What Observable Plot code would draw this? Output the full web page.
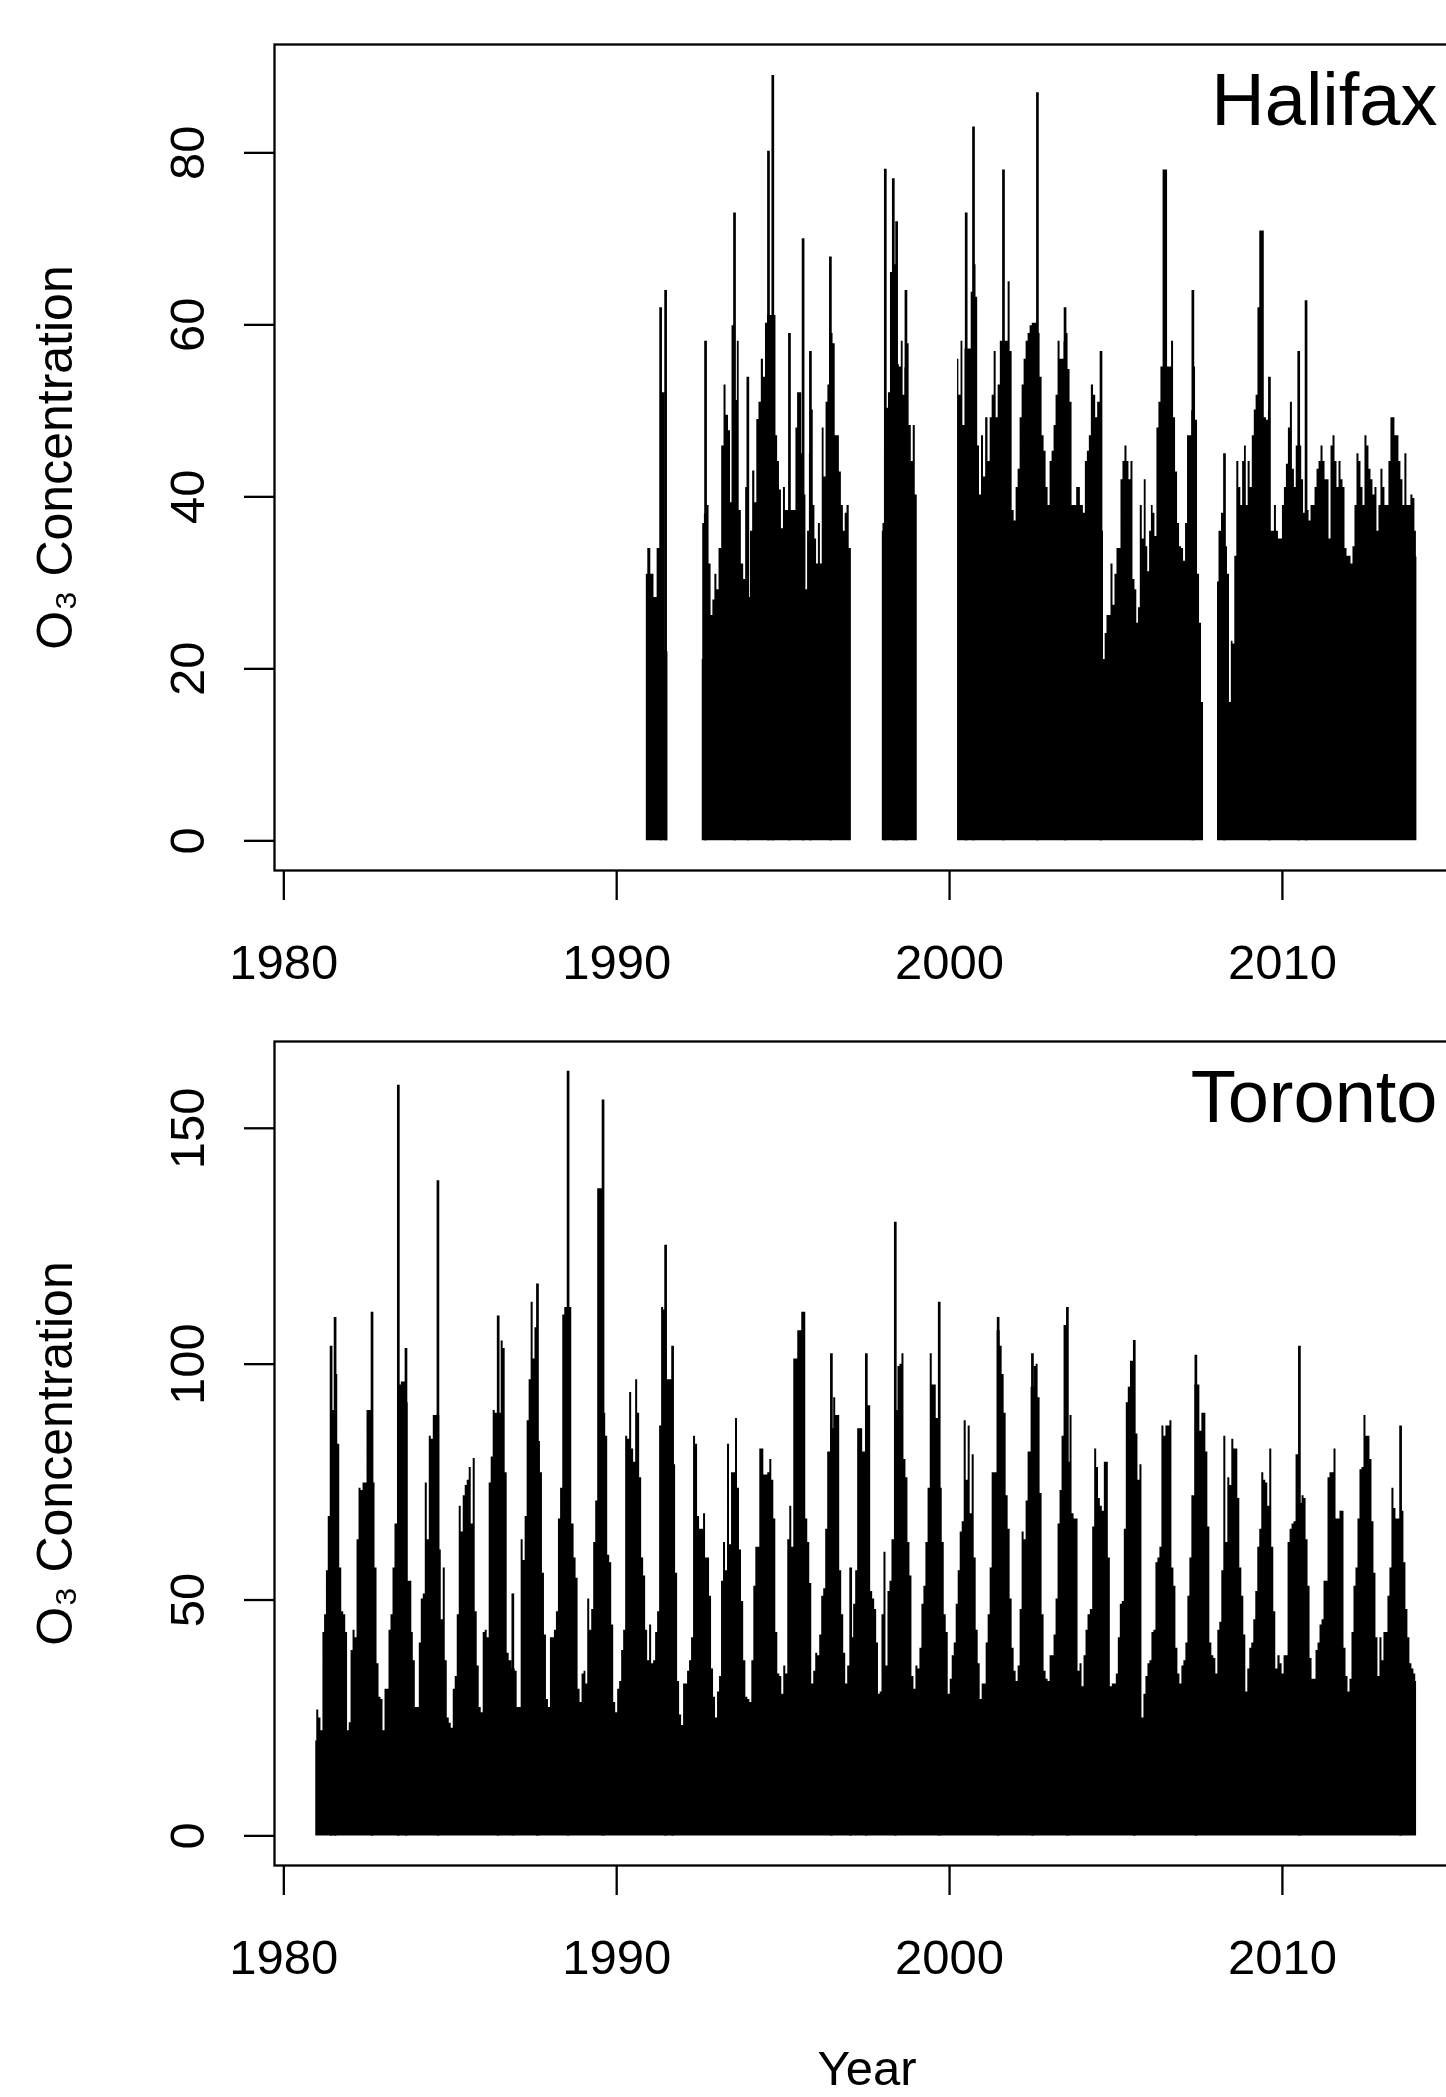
<!DOCTYPE html>
<html><head><meta charset="utf-8">
<script src="https://cdn.jsdelivr.net/npm/d3@7"></script>
<script src="https://cdn.jsdelivr.net/npm/@observablehq/plot@0.6"></script>
<style>
html, body { margin:0; padding:0; background:#fff; }
#wrap { width:1446px; height:2097px; overflow:hidden; position:relative; background:#fff; }
#wrap svg { display:block; max-width:none; }
</style></head><body><div id="wrap"></div>
<script>
// ---- tick values ----
const xTicks = [1980, 1990, 2000, 2010];
const halifaxTicks = [0, 20, 40, 60, 80];
const torontoTicks = [0, 50, 100, 150];
const yTitle = "O\u2083 Concentration";
const xTitle = "Year";

// ---- Halifax: envelope of daily O3 (null = no data) ----
const halifaxYear = [
1990.89,1990.98,1991.07,1991.17,1991.26,1991.37,1991.42,1991.50,1991.54,
1992.0,
1992.57,1992.60,1992.67,1992.74,1992.81,1992.86,1992.92,1992.98,1993.04,1993.11,1993.20,1993.25,1993.32,1993.40,1993.44,1993.49,1993.54,1993.60,1993.65,1993.71,1993.78,1993.85,1993.90,1993.94,1993.99,1994.05,1994.12,1994.18,1994.24,1994.31,1994.38,1994.44,1994.50,1994.56,1994.62,1994.69,1994.76,1994.81,1994.86,1994.92,1994.98,1995.04,1995.10,1995.19,1995.27,1995.36,1995.41,1995.46,1995.52,1995.60,1995.66,1995.71,1995.76,1995.82,1995.88,1995.93,1995.98,1996.03,1996.09,1996.15,1996.20,1996.26,1996.32,1996.37,1996.42,1996.47,1996.53,1996.60,1996.66,1996.72,1996.78,1996.84,1996.89,1996.95,1997.02,1997.05,
1997.5,
1997.98,1998.02,1998.07,1998.13,1998.20,1998.25,1998.31,1998.36,1998.41,1998.46,1998.52,1998.58,1998.63,1998.69,1998.75,1998.82,1998.88,1998.94,1999.00,1999.03,
1999.6,
2000.24,2000.32,2000.37,2000.43,2000.50,2000.55,2000.62,2000.68,2000.72,2000.77,2000.82,2000.87,2000.93,2000.99,2001.05,2001.12,2001.19,2001.25,2001.31,2001.37,2001.43,2001.49,2001.56,2001.62,2001.67,2001.73,2001.79,2001.85,2001.91,2001.97,2002.03,2002.09,2002.15,2002.21,2002.27,2002.33,2002.39,2002.45,2002.52,2002.58,2002.64,2002.69,2002.75,2002.81,2002.87,2002.93,2002.99,2003.05,2003.11,2003.17,2003.23,2003.29,2003.35,2003.41,2003.47,2003.53,2003.59,2003.65,2003.71,2003.77,2003.87,2003.99,2004.05,2004.11,2004.17,2004.23,2004.29,2004.36,2004.42,2004.48,2004.55,2004.60,2004.65,2004.70,2004.76,2004.82,2004.88,2004.94,2005.00,2005.06,2005.12,2005.18,2005.24,2005.30,2005.36,2005.42,2005.48,2005.54,2005.60,2005.65,2005.70,2005.76,2005.82,2005.88,2005.93,2005.98,2006.04,2006.09,2006.14,2006.20,2006.26,2006.32,2006.38,2006.45,2006.52,2006.58,2006.64,2006.70,2006.76,2006.82,2006.88,2006.94,2007.00,2007.06,2007.12,2007.18,2007.24,2007.31,2007.36,2007.42,2007.48,2007.54,2007.60,2007.63,
2007.85,
2008.05,2008.14,2008.20,2008.26,2008.32,2008.38,2008.44,2008.49,2008.54,2008.60,2008.66,2008.72,2008.78,2008.83,2008.89,2008.94,2009.00,2009.06,2009.13,2009.18,2009.24,2009.29,2009.35,2009.42,2009.49,2009.55,2009.61,2009.67,2009.73,2009.79,2009.85,2009.91,2009.97,2010.03,2010.09,2010.15,2010.21,2010.27,2010.33,2010.39,2010.44,2010.49,2010.55,2010.61,2010.66,2010.71,2010.77,2010.83,2010.89,2010.95,2011.01,2011.07,2011.13,2011.19,2011.25,2011.31,2011.37,2011.43,2011.49,2011.55,2011.61,2011.67,2011.73,2011.79,2011.85,2011.91,2011.97,2012.03,2012.09,2012.15,2012.21,2012.27,2012.33,2012.39,2012.45,2012.51,2012.57,2012.63,2012.69,2012.75,2012.81,2012.87,2012.93,2012.99,2013.05,2013.11,2013.17,2013.23,2013.29,2013.35,2013.41,2013.47,2013.53,2013.59,2013.65,2013.71,2013.77,2013.83,2013.89,2013.95,2014.01,2014.04
];
const halifaxO3 = [
31.0,34.0,31.0,28.3,34.0,52.1,52.1,22.0,22.0,
null,
21.1,36.9,38.0,39.0,32.2,26.2,28.0,31.0,29.2,34.0,45.9,53.0,49.5,47.7,39.3,59.9,59.9,51.2,58.1,38.4,32.2,30.4,41.1,41.1,28.3,36.0,43.0,39.3,49.0,51.0,56.0,53.9,60.2,61.1,61.1,61.1,61.1,47.1,44.1,40.8,36.3,41.1,38.4,38.4,38.4,38.4,48.0,52.1,52.1,45.0,40.2,29.2,36.0,45.0,50.1,39.0,35.1,32.2,36.9,32.2,48.0,42.3,51.0,53.0,59.0,59.0,57.8,47.1,47.1,42.9,39.0,36.0,38.1,39.0,34.0,34.0,
null,
36.0,36.9,45.0,50.3,52.1,66.1,66.1,67.0,67.0,55.4,55.1,58.1,51.8,55.0,57.8,48.3,44.1,48.3,40.2,40.2,
null,
56.0,51.8,58.1,48.3,57.2,57.2,57.2,63.8,63.8,67.0,63.2,45.9,40.2,47.1,42.3,49.2,44.1,49.2,51.8,56.9,49.2,53.0,58.1,58.1,58.1,58.1,65.0,56.9,38.4,37.2,41.1,43.2,49.2,53.0,56.0,58.1,59.0,59.9,60.2,60.2,60.2,59.0,53.9,47.1,45.3,41.1,39.0,44.1,45.3,48.3,51.8,58.1,56.0,56.0,58.0,59.0,54.8,51.0,39.0,39.0,41.1,39.0,38.1,44.1,45.3,47.1,53.0,51.8,49.2,51.0,51.0,36.0,21.1,24.1,26.2,26.2,32.2,27.4,31.0,34.0,34.0,42.0,44.1,45.9,44.1,42.0,44.1,30.4,29.2,25.3,27.1,39.0,35.1,42.0,34.2,31.3,36.0,39.0,38.1,35.4,48.0,51.0,55.1,78.0,78.0,55.1,55.1,58.1,49.2,42.9,36.9,34.2,34.0,32.5,36.9,47.1,47.1,50.0,55.1,48.9,31.0,25.3,16.1,16.1,
null,
30.1,36.0,38.1,38.0,34.2,31.0,16.1,23.2,22.9,33.1,44.1,41.1,39.0,44.1,45.9,39.0,44.1,41.1,47.1,50.1,51.8,62.0,70.9,70.9,49.2,48.9,50.0,36.0,36.0,39.0,36.0,35.1,35.1,39.0,41.1,43.8,48.0,51.0,43.2,41.1,45.9,45.9,45.9,42.0,38.1,38.1,38.4,37.2,39.0,39.0,41.1,43.2,44.1,45.9,44.1,42.0,42.0,35.1,45.9,47.1,44.1,41.1,44.1,42.0,41.1,34.0,33.1,33.1,32.2,34.2,39.0,45.0,44.1,41.1,39.0,47.1,45.9,43.2,42.0,40.2,41.1,36.0,39.0,43.2,41.1,39.0,39.0,44.1,49.2,49.2,47.1,47.1,44.1,42.0,39.0,45.0,39.0,39.0,40.2,39.8,36.0,33.0
];
// Halifax single-day peaks
const halifaxPeakYear = [1991.32,1991.47,1992.67,1993.54,1993.94,1994.56,1994.69,1995.19,1995.60,1995.82,1996.42,1998.07,1998.31,1998.41,1998.69,2000.50,2000.72,2001.62,2002.64,2003.47,2004.55,2007.31,2008.26,2009.61,2010.49,2010.71];
const halifaxPeakO3   = [62.0,64.0,58.1,73.0,53.9,80.2,89.0,59.0,70.0,56.9,67.9,78.1,77.0,72.0,64.0,73.0,83.0,78.0,87.0,62.0,56.9,64.0,45.0,53.9,56.9,62.8];

// ---- Toronto: envelope of daily O3 ----
const torontoYear = [
1980.96,1981.02,1981.08,1981.15,1981.20,1981.25,1981.31,1981.36,1981.47,1981.59,1981.65,1981.71,1981.77,1981.83,1981.89,1981.94,1981.99,1982.05,1982.11,1982.17,1982.23,1982.29,1982.35,1982.41,1982.47,1982.53,1982.59,1982.71,1982.77,1982.83,1982.89,1982.95,1983.01,1983.07,1983.13,1983.19,1983.25,1983.31,1983.37,1983.50,1983.56,1983.62,1983.70,1983.77,1983.83,1983.86,1983.92,1983.98,1984.04,1984.10,1984.16,1984.22,1984.28,1984.34,1984.40,1984.46,1984.52,1984.58,1984.67,1984.70,1984.76,1984.82,1984.88,1984.94,1985.00,1985.06,1985.12,1985.18,1985.24,1985.30,1985.36,1985.42,1985.48,1985.54,1985.60,1985.66,1985.72,1985.78,1985.84,1985.90,1985.96,1986.02,1986.08,1986.14,1986.20,1986.26,1986.32,1986.38,1986.50,1986.56,1986.62,1986.68,1986.74,1986.80,1986.92,1986.98,1987.04,1987.10,1987.16,1987.22,1987.28,1987.34,1987.40,1987.46,1987.52,1987.57,1987.68,1987.74,1987.80,1987.86,1987.92,1987.98,1988.04,1988.10,1988.16,1988.22,1988.28,1988.35,1988.41,1988.47,1988.61,1988.69,1988.75,1988.81,1988.87,1988.93,1988.99,1989.05,
1989.10,1989.16,1989.22,1989.28,1989.34,1989.40,1989.46,1989.52,1989.64,1989.70,1989.76,1989.82,1989.88,1989.94,1990.00,1990.06,1990.12,1990.18,1990.24,1990.30,1990.36,1990.42,1990.48,1990.54,1990.60,1990.66,1990.72,1990.78,1990.84,1990.90,1990.96,1991.02,1991.08,1991.14,1991.20,1991.26,1991.32,1991.38,1991.44,1991.56,1991.62,1991.74,1991.80,1991.86,1991.92,1991.98,1992.04,1992.10,1992.16,1992.22,1992.28,1992.34,1992.40,1992.46,1992.52,1992.58,1992.64,1992.70,1992.76,1992.82,1992.88,1992.94,1993.00,1993.06,1993.12,1993.18,1993.24,1993.30,1993.36,1993.42,1993.48,1993.54,1993.60,1993.66,1993.72,1993.78,1993.85,1993.91,1993.97,1994.03,1994.09,1994.15,1994.21,1994.27,1994.33,1994.39,1994.45,1994.51,1994.57,1994.63,1994.69,1994.75,1994.81,1994.87,1994.93,1994.99,1995.05,1995.11,1995.17,1995.23,1995.29,1995.35,1995.41,1995.47,1995.53,1995.59,1995.65,1995.71,1995.77,1995.83,1995.89,1995.95,1996.01,1996.07,1996.13,1996.19,1996.25,1996.31,1996.37,1996.49,1996.55,1996.61,1996.67,1996.73,1996.79,1996.85,1996.91,1996.97,1997.09,1997.15,1997.21,1997.27,
1997.36,1997.42,1997.54,1997.60,1997.66,1997.72,1997.78,1997.84,1997.89,1997.94,1998.00,1998.06,1998.12,1998.18,1998.24,1998.30,1998.42,1998.48,1998.54,1998.60,1998.66,1998.72,1998.78,1998.84,1998.90,1998.96,1999.02,1999.08,1999.14,1999.20,1999.26,1999.32,1999.39,1999.45,1999.51,1999.57,1999.63,1999.75,1999.81,1999.87,1999.93,1999.99,2000.05,2000.11,2000.17,2000.23,2000.29,2000.35,2000.41,2000.47,2000.53,2000.59,2000.65,2000.71,2000.77,2000.83,2000.89,2000.95,2001.01,2001.07,2001.13,2001.19,2001.25,2001.31,2001.37,2001.49,2001.55,2001.61,2001.67,2001.73,2001.79,2001.85,2001.91,2001.97,2002.03,2002.09,2002.15,2002.21,2002.27,2002.33,2002.39,2002.51,2002.57,2002.63,2002.69,2002.75,2002.81,2002.87,2002.93,2002.99,2003.05,2003.11,2003.17,2003.23,2003.29,2003.35,2003.41,2003.47,2003.59,2003.65,2003.71,2003.77,2003.83,2003.89,2003.95,2004.01,2004.07,2004.13,2004.19,2004.27,2004.33,2004.39,2004.45,2004.50,2004.56,2004.62,2004.68,2004.74,2004.80,2004.86,2004.92,2004.98,2005.04,2005.10,2005.16,2005.22,2005.28,2005.34,2005.40,2005.47,
2005.63,2005.69,2005.75,2005.81,2005.87,2005.93,2005.99,2006.05,2006.11,2006.17,2006.23,2006.29,2006.35,2006.41,2006.47,2006.53,2006.59,2006.65,2006.71,2006.77,2006.83,2006.89,2006.95,2007.01,2007.07,2007.13,2007.19,2007.25,2007.31,2007.43,2007.49,2007.55,2007.61,2007.67,2007.73,2007.79,2007.85,2007.91,2007.97,2008.03,2008.09,2008.15,2008.21,2008.27,2008.33,2008.39,2008.45,2008.51,2008.57,2008.63,2008.69,2008.75,2008.81,2008.87,2008.93,2008.99,2009.05,2009.11,2009.17,2009.23,2009.29,2009.35,2009.41,2009.47,2009.53,2009.59,2009.65,2009.71,2009.77,2009.83,2009.90,2009.96,2010.02,2010.08,2010.14,2010.20,2010.26,2010.32,2010.38,2010.44,2010.56,2010.62,2010.68,2010.74,2010.80,2010.86,2010.92,2010.98,2011.04,2011.10,2011.16,2011.22,2011.28,2011.34,2011.40,2011.46,2011.52,2011.58,2011.64,2011.70,2011.76,2011.82,2011.88,2011.94,2012.00,2012.06,2012.12,2012.18,2012.24,2012.30,2012.36,2012.42,2012.48,2012.54,2012.60,2012.66,2012.72,2012.78,2012.84,2012.90,2012.96,2013.02,2013.08,2013.14,2013.20,2013.26,2013.32,2013.38,2013.44,2013.50,2013.62,2013.68,2013.74,2013.80,2013.86,2013.92,2013.98,2014.03
];
const torontoO3 = [
20.1,26.7,25.0,22.3,43.1,46.9,56.2,67.7,90.2,97.8,83.0,56.8,47.5,46.9,43.1,22.3,24.0,39.3,43.6,42.0,62.8,73.7,73.2,74.8,74.8,90.2,90.2,74.8,56.8,36.5,29.4,28.9,22.3,31.1,31.1,43.6,46.9,56.8,66.1,95.6,96.2,96.2,91.8,54.0,54.0,43.1,37.1,27.2,27.2,40.9,50.2,51.3,74.8,62.8,84.7,84.1,89.1,89.1,89.1,60.6,45.8,56.8,37.1,25.0,23.9,22.8,31.1,33.8,46.9,69.9,64.4,72.1,74.3,75.4,78.1,66.1,80.0,47.5,36.0,27.2,26.1,43.1,43.6,42.0,74.8,80.3,90.2,89.6,89.6,104.9,103.3,77.0,38.7,37.1,35.4,34.9,27.2,27.2,62.8,58.4,67.7,88.0,96.7,113.1,101.1,107.7,83.6,77.0,55.7,42.6,28.9,27.2,42.0,42.0,43.6,47.5,67.2,73.7,110.4,112.0,112.0,66.1,58.9,54.6,31.1,28.3,34.3,34.9,
32.2,50.2,43.6,48.0,62.2,71.0,137.2,137.2,89.6,84.7,59.5,57.9,44.7,28.3,26.1,31.1,32.7,39.3,43.6,84.7,84.1,94.0,82.0,79.2,96.7,89.6,75.9,58.9,55.1,43.6,37.1,44.7,36.5,37.1,43.1,47.5,86.9,112.0,111.5,96.7,96.7,78.7,55.7,32.7,25.6,23.4,32.2,32.2,34.9,37.1,42.0,84.7,83.0,67.7,65.0,65.0,68.3,58.9,58.9,50.8,35.4,29.4,25.0,30.5,33.8,54.0,62.2,56.2,83.0,61.7,77.0,77.0,88.5,73.7,60.6,49.7,37.1,29.4,28.9,28.3,37.1,52.9,61.2,61.2,82.0,82.0,76.5,76.5,77.0,79.8,75.4,67.2,43.1,34.3,33.8,30.0,36.0,34.3,62.8,69.9,61.2,101.1,101.1,107.1,107.1,111.0,111.0,67.2,62.2,53.5,32.2,34.9,38.7,38.2,42.6,50.8,52.4,65.0,81.4,86.3,92.9,89.1,89.1,56.2,46.9,38.7,32.2,36.0,42.0,49.1,56.2,86.3,
86.3,81.4,91.2,91.2,51.8,50.2,48.0,40.9,30.0,30.5,46.9,60.1,36.0,51.8,54.0,62.8,90.2,99.5,100.0,102.2,79.8,75.9,62.2,55.1,33.8,31.1,36.0,35.4,39.8,49.1,52.9,62.2,73.7,102.2,95.6,95.6,88.5,73.7,62.2,46.9,43.1,30.0,33.2,38.2,40.9,49.1,56.2,64.4,66.6,88.0,75.4,86.9,68.3,80.8,58.9,43.6,36.5,28.9,32.2,32.2,40.9,46.9,56.8,77.0,77.0,107.1,103.8,97.8,89.6,72.1,65.0,50.2,39.8,34.9,32.7,36.0,48.0,64.4,62.8,71.0,81.4,95.1,99.5,100.0,92.9,72.6,46.9,34.9,33.2,32.7,38.2,38.2,42.6,50.2,66.1,73.2,84.7,108.2,79.2,89.1,68.3,67.2,67.2,34.9,36.5,31.6,38.2,43.6,46.9,48.0,65.5,82.0,78.1,71.5,69.9,68.8,79.2,79.2,58.9,31.6,32.2,32.2,34.3,42.0,49.1,49.7,65.0,91.8,95.1,100.6,
85.2,75.4,78.7,25.0,30.0,33.8,36.5,37.1,43.1,43.6,57.9,58.9,61.2,86.9,84.7,86.9,86.9,88.0,56.8,52.9,39.8,34.3,32.2,36.0,37.1,40.9,50.8,58.9,72.1,95.6,95.6,85.8,89.6,89.6,81.4,65.5,40.9,38.2,37.6,34.3,43.6,45.3,56.2,84.7,62.2,75.9,74.3,84.1,82.0,82.0,71.5,56.8,50.8,42.6,30.5,35.4,39.8,40.9,45.8,51.8,61.2,65.0,77.0,75.4,74.8,69.9,82.0,61.2,47.5,35.4,38.2,36.5,34.3,38.2,38.2,62.2,65.0,66.1,66.6,80.8,70.5,72.1,71.5,62.8,52.9,37.6,33.2,33.2,39.3,40.9,44.7,45.8,54.0,54.0,75.9,77.0,77.0,82.0,67.2,67.2,68.8,68.8,39.8,33.8,30.5,33.2,43.1,52.9,56.8,67.2,77.6,78.1,89.1,84.7,84.7,79.8,66.6,55.7,42.0,33.8,42.0,37.1,43.1,43.1,50.8,56.8,73.7,69.4,67.2,67.2,68.8,57.9,48.0,42.0,36.5,35.4,34.3,32.7
];
// Toronto single-day peaks
const torontoPeakYear = [1981.42,1981.54,1982.65,1983.44,1983.67,1984.63,1986.44,1986.88,1987.62,1988.54,1989.59,1991.47,1991.68,1996.45,1997.03,1997.50,1998.37,1999.69,2001.46,2002.49,2003.54,2005.55,2007.40,2010.51,2013.55];
const torontoPeakO3   = [103.8,109.9,111.0,159.1,103.3,138.9,110.2,51.3,117.0,162.1,156.0,125.2,103.8,102.2,56.8,102.2,130.1,113.1,109.9,102.2,112.0,105.0,101.9,103.8,86.9];

const FONT = "'Liberation Sans', Arial, Helvetica, sans-serif";

function panel({name, years, values, peakYears, peakValues, yDomain, yTicks, height, marginTop, marginBottom, withXTitle}) {
  const envelope = years.map((x, i) => ({x, y: values[i]}));
  const peaks = peakYears.map((x, i) => ({x, y: peakValues[i]}));
  return Plot.plot({
    width: 1446,
    height,
    marginLeft: 274,
    marginRight: -13,
    marginTop,
    marginBottom,
    style: {fontFamily: FONT, background: "white", color: "black", overflow: "hidden", maxWidth: "none"},
    x: {domain: [1979.72, 2015.32]},
    y: {domain: yDomain},
    marks: [
      Plot.areaY(envelope, {x: "x", y1: 0, y2: "y", curve: "step", fill: "black"}),
      Plot.ruleX(peaks, {x: "x", y1: 0, y2: "y", stroke: "black", strokeWidth: 2.7}),
      Plot.frame({stroke: "black", strokeWidth: 2.3}),
      Plot.axisX(xTicks, {tickSize: 30, strokeWidth: 2.3, fill: "none", label: null}),
      Plot.axisY(yTicks, {tickSize: 30, strokeWidth: 2.3, fill: "none", label: null}),
      Plot.text(xTicks, {x: d => d, text: d => `${d}`, frameAnchor: "bottom", dy: 108, lineAnchor: "bottom", fontSize: 49, fill: "black"}),
      Plot.text(yTicks, {y: d => d, text: d => `${d}`, frameAnchor: "left", dx: -71, rotate: -90, textAnchor: "middle", lineAnchor: "bottom", fontSize: 49, fill: "black"}),
      Plot.text([yTitle], {text: d => d, frameAnchor: "left", dx: 71 - 274, rotate: -90, textAnchor: "middle", lineAnchor: "bottom", fontSize: 50, fill: "black"}),
      Plot.text([name], {text: d => d, frameAnchor: "top-right", dx: -22, dy: 80, textAnchor: "end", lineAnchor: "bottom", fontSize: 74, fill: "black"}),
      withXTitle ? Plot.text([xTitle], {text: d => d, frameAnchor: "bottom", dy: 219, lineAnchor: "bottom", fontSize: 49, fill: "black"}) : null
    ]
  });
}

const wrap = document.getElementById("wrap");
wrap.append(panel({
  name: "Halifax", years: halifaxYear, values: halifaxO3,
  peakYears: halifaxPeakYear, peakValues: halifaxPeakO3,
  yDomain: [-3.45, 92.6], yTicks: halifaxTicks,
  height: 1000, marginTop: 44, marginBottom: 130, withXTitle: false
}));
wrap.append(panel({
  name: "Toronto", years: torontoYear, values: torontoO3,
  peakYears: torontoPeakYear, peakValues: torontoPeakO3,
  yDomain: [-6.28, 168.4], yTicks: torontoTicks,
  height: 1097, marginTop: 41, marginBottom: 232, withXTitle: true
}));
</script>
</body></html>
